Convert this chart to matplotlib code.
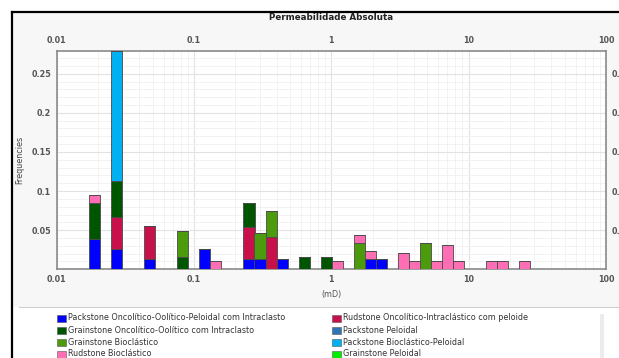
import numpy as np
import matplotlib
matplotlib.use("Agg")
import matplotlib.pyplot as plt
from matplotlib.patches import Rectangle
from matplotlib.lines import Line2D
from matplotlib.ticker import LogLocator, MultipleLocator, FixedLocator, FixedFormatter

# Histogram bin centres (mD) of occupied permeability classes
bin_centers = [0.01895, 0.02741, 0.04771, 0.08300, 0.1201, 0.1444, 0.2514, 0.3023,
               0.3636, 0.4374, 0.6329, 0.9156, 1.1013, 1.5934, 1.9167, 2.3053,
               3.3357, 4.0120, 4.8259, 5.8036, 6.9823, 8.3972, 14.61, 17.58, 25.43]

# Stacked frequencies per facies, one value per bin above
packstone_onc_oolitico = [0.0383, 0.0263, 0.0131, 0, 0.0263, 0, 0.0131, 0.0131,
                          0, 0.0131, 0, 0, 0, 0, 0.0131, 0.0131,
                          0, 0, 0, 0, 0, 0, 0, 0, 0]
rudstone_onc_intraclastico = [0, 0.0400, 0.0417, 0, 0, 0, 0.0410, 0,
                              0.0408, 0, 0, 0, 0, 0, 0, 0,
                              0, 0, 0, 0, 0, 0, 0, 0, 0]
grainstone_onc_oolitico = [0.0459, 0.0463, 0, 0.0157, 0, 0, 0.0310, 0,
                           0, 0, 0.0157, 0.0157, 0, 0, 0, 0,
                           0, 0, 0, 0, 0, 0, 0, 0, 0]
packstone_peloidal = [0] * 25
grainstone_bioclastico = [0, 0, 0, 0.0332, 0, 0, 0, 0.0332,
                          0.0339, 0, 0, 0, 0, 0.0332, 0, 0,
                          0, 0, 0.0332, 0, 0, 0, 0, 0, 0]
packstone_bio_peloidal = [0, 0.1664, 0, 0, 0, 0, 0, 0,
                          0, 0, 0, 0, 0, 0, 0, 0,
                          0, 0, 0, 0, 0, 0, 0, 0, 0]
rudstone_bioclastico = [0.0106, 0, 0, 0, 0, 0.0106, 0, 0,
                        0, 0, 0, 0, 0.0106, 0.0106, 0.0106, 0,
                        0.0212, 0.0106, 0, 0.0106, 0.0314, 0.0106, 0.0106, 0.0106, 0.0106]
grainstone_peloidal = [0] * 25

facies_names = [
    "Packstone Oncolítico-Oolítico-Peloidal com Intraclasto",
    "Rudstone Oncolítico-Intraclástico com peloide",
    "Grainstone Oncolítico-Oolítico com Intraclasto",
    "Packstone Peloidal",
    "Grainstone Bioclástico",
    "Packstone Bioclástico-Peloidal",
    "Rudstone Bioclástico",
    "Grainstone Peloidal",
]
facies_values = [packstone_onc_oolitico, rudstone_onc_intraclastico,
                 grainstone_onc_oolitico, packstone_peloidal,
                 grainstone_bioclastico, packstone_bio_peloidal,
                 rudstone_bioclastico, grainstone_peloidal]
facies_colors = ["#0000ff", "#c8104b", "#005500", "#2f75b5",
                 "#4b9b0d", "#00b0f0", "#ff6eb4", "#00ee00"]

x_ticks = [0.01, 0.1, 1, 10, 100]
x_tick_labels = ["0.01", "0.1", "1", "10", "100"]
y_ticks = [0.05, 0.1, 0.15, 0.2, 0.25]
y_tick_labels = ["0.05", "0.1", "0.15", "0.2", "0.25"]

W, H = 619, 358
fig = plt.figure(figsize=(W / 100, H / 100), dpi=100)
fig.patch.set_facecolor("white")

def fx(px):
    return px / W

def fy(py):
    return 1 - py / H

# panel background and black frame
fig.add_artist(Rectangle((fx(12), 0), 1 - fx(12), fy(12), transform=fig.transFigure,
                         facecolor="#f7f7f7", edgecolor="none", zorder=0))
fig.add_artist(Rectangle((fx(12), 0), 1 - fx(12), fy(307), transform=fig.transFigure,
                         facecolor="#ffffff", edgecolor="none", zorder=0))
fig.add_artist(Line2D([fx(12), fx(12)], [0, fy(12)], transform=fig.transFigure,
                      color="black", lw=1.6))
fig.add_artist(Line2D([fx(12), 1], [fy(12), fy(12)], transform=fig.transFigure,
                      color="black", lw=1.6))
fig.add_artist(Line2D([fx(19), 1], [fy(307), fy(307)], transform=fig.transFigure,
                      color="#d0d0d0", lw=0.8))
fig.add_artist(Rectangle((fx(600), 0), fx(4), fy(314), transform=fig.transFigure,
                         facecolor="#ececec", edgecolor="none"))

left, right, top, bottom = 56.7, 606, 51, 269.3
ax = fig.add_axes([fx(left), fy(bottom), fx(right - left), (bottom - top) / H])
ax.set_facecolor("white")

centers = np.array(bin_centers)
half = 10 ** 0.0401
lefts = centers / half
widths = centers * half - lefts

base = np.zeros(len(centers))
for vals, col in zip(facies_values, facies_colors):
    v = np.array(vals, dtype=float)
    ax.bar(lefts, v, width=widths, bottom=base, align="edge", color=col,
           edgecolor="#4a4a4a", linewidth=0.6, zorder=3)
    base = base + v

ax.set_xscale("log")
ax.set_xlim(0.01, 100)
ax.set_ylim(0, base.max())

ax.xaxis.set_major_locator(FixedLocator(x_ticks))
ax.xaxis.set_major_formatter(FixedFormatter(x_tick_labels))
ax.xaxis.set_minor_locator(LogLocator(base=10, subs=np.arange(2, 10)))
ax.xaxis.set_minor_formatter(plt.NullFormatter())
ax.yaxis.set_major_locator(FixedLocator(y_ticks))
ax.yaxis.set_major_formatter(FixedFormatter(y_tick_labels))
ax.yaxis.set_minor_locator(MultipleLocator(0.01))

ax.grid(True, which="major", color="#e2e2e2", lw=0.8, zorder=0)
ax.grid(True, which="minor", color="#f0f0f0", lw=0.6, zorder=0)
ax.set_axisbelow(True)

ax.tick_params(which="both", length=0, labelsize=5.8, labelcolor="#555555",
               top=False, right=False, labeltop=True, labelright=True, pad=4)
for lab in ax.get_xticklabels() + ax.get_yticklabels():
    lab.set_fontweight("bold")
for s in ax.spines.values():
    s.set_color("#8a8a8a")
    s.set_linewidth(1.2)

fig.text(fx(331), fy(17), "Permeabilidade Absoluta", ha="center", va="center",
         fontsize=6.3, fontweight="bold", color="#222222")
fig.text(fx(331), fy(294), "(mD)", ha="center", va="center", fontsize=5.8,
         color="#555555")
fig.text(fx(20), fy(160), "Frequencies", ha="center", va="center", rotation=90,
         fontsize=5.8, color="#444444")

# legend entries laid out row by row in two columns
col_x = [57, 332]
row_y = [318, 330.5, 342.5, 354]
for i, (name, col) in enumerate(zip(facies_names, facies_colors)):
    r, c = divmod(i, 2)
    x0, y0 = col_x[c], row_y[r]
    fig.add_artist(Rectangle((fx(x0), fy(y0 + 3.5)), fx(9), 7 / H,
                             transform=fig.transFigure, facecolor=col,
                             edgecolor="#555555", linewidth=0.4))
    fig.text(fx(x0 + 11), fy(y0), name, ha="left", va="center", fontsize=5.8,
             color="#333333")

fig.savefig("out.png", dpi=100)
